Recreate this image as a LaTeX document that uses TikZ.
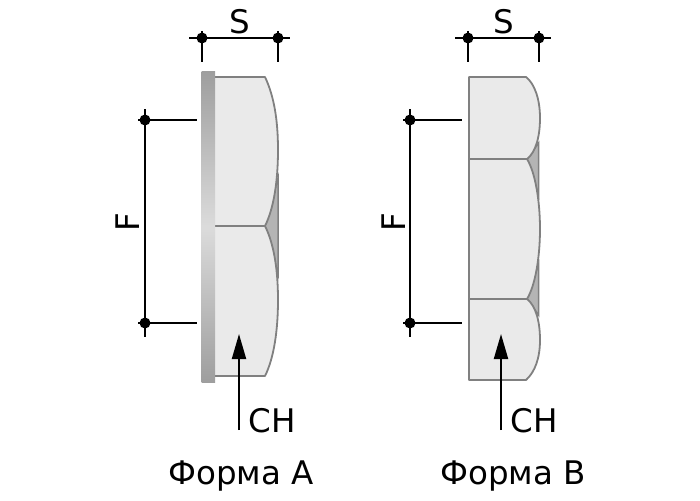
\documentclass[tikz,border=0pt]{standalone}
\usepackage{fontspec}
\setmainfont{DejaVu Sans}
\usetikzlibrary{arrows.meta}

\tikzset{
  dimline/.style={draw=black,line width=2pt},
  dimdot/.style={circle,fill=black,inner sep=0pt,minimum size=11pt},
  nutface/.style={draw=nutedge,line width=1.8pt,fill=nutfill,line join=round},
  nutwedge/.style={fill=wedgefill,draw=nutedge,line width=1.5pt},
  dimtext/.style={inner sep=0pt,font=\fontsize{32.5}{32.5}\selectfont},
  chline/.style={draw=black,line width=2pt,-{Triangle[length=25pt,width=14pt]}}
}
\definecolor{nutedge}{HTML}{808080}
\definecolor{nutfill}{HTML}{EAEAEA}
\definecolor{wedgefill}{HTML}{B4B4B4}

\begin{document}
\begin{tikzpicture}[x=1pt,y=-1pt]
\useasboundingbox (0,0) rectangle (700,500);

% form A
\path [nutwedge] (265,226) -- (278,178) -- (278,274) -- cycle;
\path [nutface] (214,77) -- (265,77) .. controls (274,96) and (278,120) .. (278,150)
    .. controls (278,180) and (274,208) .. (265,226) -- (214,226) -- cycle;
\path [nutface] (214,226) -- (265,226) .. controls (274,244) and (278,270) .. (278,300)
    .. controls (278,330) and (274,358) .. (265,376) -- (214,376) -- cycle;
\shade [top color=black!38,bottom color=black!38,middle color=black!14] (201.5,72) rectangle (215,382);

% form B
\path [nutwedge] (527,159) -- (538.5,143) -- (538.5,195) -- cycle;
\path [nutwedge] (527,299) -- (538.5,264) -- (538.5,315) -- cycle;
\path [nutface] (469,77) -- (526,77) .. controls (535,84) and (540,100) .. (540,118)
    .. controls (540,136) and (536,152) .. (527,159) -- (469,159) -- cycle;
\path [nutface] (469,159) -- (527,159) .. controls (535,172) and (540,200) .. (540,229)
    .. controls (540,258) and (535,286) .. (527,299) -- (469,299) -- cycle;
\path [nutface] (469,299) -- (527,299) .. controls (536,306) and (540,322) .. (540,340)
    .. controls (540,358) and (535,372) .. (526,380) -- (469,380) -- cycle;

% S dimension, form A
\node [dimdot] (sA1) at (202,38) {};
\node [dimdot] (sA2) at (278,38) {};
\coordinate (sA1a) at (189,38);
\coordinate (sA2a) at (290,38);
\coordinate (sA1b) at (202,62);
\coordinate (sA2b) at (278,62);
\coordinate (sA1c) at (202,31);
\coordinate (sA2c) at (278,31);
\draw [dimline] (sA1a) -- (sA2a);
\draw [dimline] (sA1c) -- (sA1b);
\draw [dimline] (sA2c) -- (sA2b);
\node [dimtext] (sAtext) at (240,22) {S};

% S dimension, form B
\node [dimdot] (sB1) at (468,38) {};
\node [dimdot] (sB2) at (539,38) {};
\coordinate (sB1a) at (455,38);
\coordinate (sB2a) at (551,38);
\coordinate (sB1b) at (468,62);
\coordinate (sB2b) at (539,62);
\coordinate (sB1c) at (468,31);
\coordinate (sB2c) at (539,31);
\draw [dimline] (sB1a) -- (sB2a);
\draw [dimline] (sB1c) -- (sB1b);
\draw [dimline] (sB2c) -- (sB2b);
\node [dimtext] (sBtext) at (504,22) {S};

% F dimension, form A
\node [dimdot] (fA1) at (145,120) {};
\node [dimdot] (fA2) at (145,323) {};
\coordinate (fA1a) at (145,109);
\coordinate (fA2a) at (145,337);
\coordinate (fA1b) at (138,120);
\coordinate (fA1c) at (197,120);
\coordinate (fA2b) at (138,323);
\coordinate (fA2c) at (197,323);
\draw [dimline] (fA1a) -- (fA2a);
\draw [dimline] (fA1b) -- (fA1c);
\draw [dimline] (fA2b) -- (fA2c);
\node [dimtext,rotate=90] (fAtext) at (128,222) {F};

% F dimension, form B
\node [dimdot] (fB1) at (410,120) {};
\node [dimdot] (fB2) at (410,323) {};
\coordinate (fB1a) at (410,109);
\coordinate (fB2a) at (410,337);
\coordinate (fB1b) at (403,120);
\coordinate (fB1c) at (462,120);
\coordinate (fB2b) at (403,323);
\coordinate (fB2c) at (462,323);
\draw [dimline] (fB1a) -- (fB2a);
\draw [dimline] (fB1b) -- (fB1c);
\draw [dimline] (fB2b) -- (fB2c);
\node [dimtext,rotate=90] (fBtext) at (394,222) {F};

% CH pointers
\coordinate (chA0) at (239,430);
\coordinate (chA1) at (239,334);
\coordinate (chB0) at (501,430);
\coordinate (chB1) at (501,334);
\draw [chline] (chA0) -- (chA1);
\draw [chline] (chB0) -- (chB1);
\node [dimtext] (chAtext) at (272,421) {CH};
\node [dimtext] (chBtext) at (534,421) {CH};

\node [dimtext] (formA) at (241,476) {Форма A};
\node [dimtext] (formB) at (513,476) {Форма B};
\end{tikzpicture}
\end{document}
